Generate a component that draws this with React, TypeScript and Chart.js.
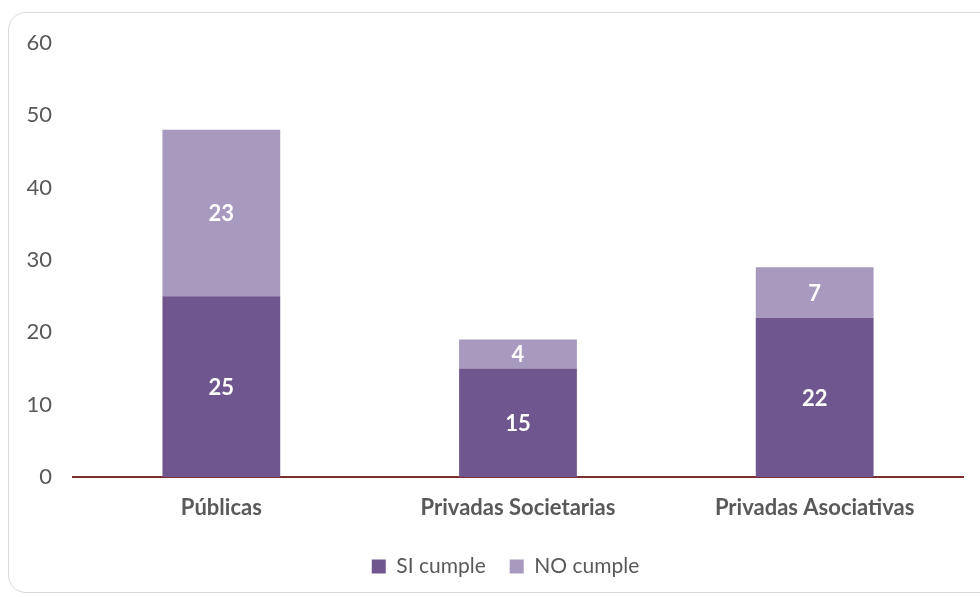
import React, { useEffect, useRef } from "react";
import { Chart, registerables } from "chart.js";

Chart.register(...registerables);

const categories = ["Públicas", "Privadas Societarias", "Privadas Asociativas"];
const siCumple = [25, 15, 22];
const noCumple = [23, 4, 7];
const seriesNames = ["SI cumple", "NO cumple"];
const yTicks = [0, 10, 20, 30, 40, 50, 60];

const FONT = "Lato, 'Open Sans', sans-serif";
const TEXT = "#595959";

const valueLabels = {
  id: "valueLabels",
  afterDatasetsDraw(chart: any) {
    const ctx = chart.ctx;
    ctx.save();
    ctx.fillStyle = "#ffffff";
    ctx.font = `bold 22px ${FONT}`;
    ctx.textAlign = "center";
    ctx.textBaseline = "middle";
    chart.data.datasets.forEach((ds: any, di: number) => {
      const meta = chart.getDatasetMeta(di);
      meta.data.forEach((el: any, i: number) => {
        const { x, y, base } = el.getProps(["x", "y", "base"], true);
        ctx.fillText(String(ds.data[i]), x, (y + base) / 2 + 1);
      });
    });
    ctx.restore();
  },
};

// shift the legend so that it is centred on the frame, as in the reference
const legendShift = {
  id: "legendShift",
  afterLayout(chart: any) {
    const lg = chart.legend;
    if (lg) {
      lg.left += 24;
      lg.right += 24;
    }
  },
};

export default function App() {
  const ref = useRef<HTMLCanvasElement>(null);
  useEffect(() => {
    if (!ref.current) return;
    const chart = new Chart(ref.current, {
      type: "bar",
      data: {
        labels: categories,
        datasets: [
          {
            label: seriesNames[0],
            data: siCumple,
            backgroundColor: "#6F568F",
            barPercentage: 1,
            categoryPercentage: 0.397,
          },
          {
            label: seriesNames[1],
            data: noCumple,
            backgroundColor: "#A899BE",
            barPercentage: 1,
            categoryPercentage: 0.397,
          },
        ],
      },
      options: {
        responsive: false,
        animation: false,
        devicePixelRatio: 1,
        layout: { padding: { top: 43, right: 17, bottom: 10, left: 0 } },
        plugins: {
          tooltip: { enabled: false },
          legend: {
            position: "bottom",
            labels: {
              boxWidth: 14,
              boxHeight: 14,
              padding: 24,
              color: TEXT,
              font: { family: FONT, size: 21 },
            },
          },
        },
        scales: {
          x: {
            stacked: true,
            grid: { display: false },
            border: { display: true, color: "#7B2E2E", width: 2 },
            ticks: {
              color: TEXT,
              padding: 10,
              font: { family: FONT, size: 22, weight: "bold" },
            },
            afterFit(scale: any) {
              scale.height = 55;
            },
          },
          y: {
            stacked: true,
            min: 0,
            max: 60,
            grid: { display: false },
            border: { display: false },
            afterBuildTicks(scale: any) {
              scale.ticks = yTicks.map((v) => ({ value: v }));
            },
            ticks: {
              color: TEXT,
              padding: 13,
              font: { family: FONT, size: 22 },
            },
            afterFit(scale: any) {
              scale.width = 73;
            },
          },
        },
      },
      plugins: [valueLabels, legendShift],
    } as any);
    return () => chart.destroy();
  }, []);

  return (
    <div
      style={{
        position: "fixed",
        left: 0,
        top: 0,
        width: 980,
        height: 597,
        overflow: "hidden",
        background: "#ffffff",
      }}
    >
      <div
        style={{
          position: "absolute",
          left: 8,
          top: 12,
          width: 1010,
          height: 581,
          border: "1.5px solid #d9d9d9",
          borderRadius: 18,
          boxSizing: "border-box",
        }}
      />
      <canvas
        ref={ref}
        width={980}
        height={597}
        style={{ position: "absolute", left: 0, top: 0, width: 980, height: 597 }}
      />
    </div>
  );
}
